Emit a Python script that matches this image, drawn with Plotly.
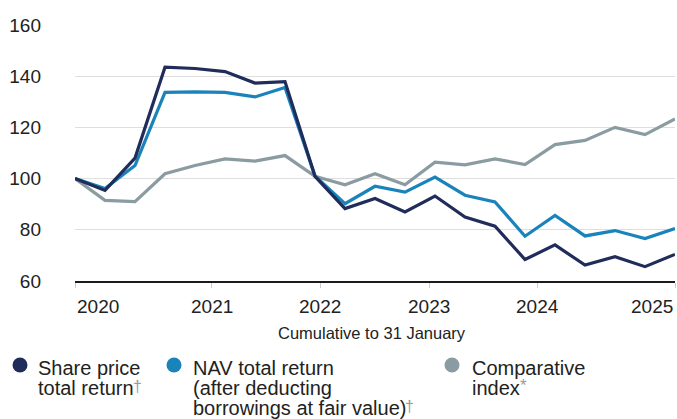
import plotly.graph_objects as go

# Quarterly points, cumulative to 31 January (rebased to 100)
periods = list(range(21))

share_price = [100, 95.4, 108, 143.5, 143.0, 141.8, 137.3, 137.9, 100.9, 88.3,
               92.2, 87.0, 93.2, 85.0, 81.4, 68.4, 74.1, 66.2, 69.5, 65.6, 70.4]
nav_return = [100, 96.1, 105.1, 133.7, 133.9, 133.7, 131.9, 135.6, 101.0, 90.2,
              97.0, 94.7, 100.6, 93.5, 90.9, 77.5, 85.6, 77.6, 79.7, 76.6, 80.5]
comparative = [100, 91.5, 91.0, 101.9, 105.1, 107.7, 106.8, 109.0, 100.9, 97.6,
               101.9, 97.6, 106.4, 105.4, 107.7, 105.5, 113.3, 114.9, 120.0, 117.2, 123.3]

year_labels = ["2020", "2021", "2022", "2023", "2024", "2025"]
year_positions = [0, 4.56, 8.17, 11.8, 15.4, 20]
y_ticks = [60, 80, 100, 120, 140, 160]

NAVY = "#202c5a"
BLUE = "#1a83ba"
GREY = "#8b9ba2"
TEXT = "#222222"
MARK = "#9a9a9a"
FONT = "Liberation Sans, Arial, sans-serif"

W, H = 677, 419
ML, MR, MT, MB = 75, 2, 25, 138
PW, PH = W - ML - MR, H - MT - MB


def px_x(px):
    return (px - ML) / PW


def px_y(py):
    return (H - MB - py) / PH


fig = go.Figure()
series = [
    ("Share price total return", share_price, NAVY),
    ("NAV total return", nav_return, BLUE),
    ("Comparative index", comparative, GREY),
]
# grey drawn first so the darker lines sit on top
for name, vals, col in reversed(series):
    fig.add_trace(go.Scatter(
        x=periods, y=vals, name=name, mode="lines",
        line=dict(color=col, width=3.2), cliponaxis=False,
        showlegend=False,
    ))

annotations = []
# x-axis year labels (first and last kept inside the plot edge)
for i, (lab, pos) in enumerate(zip(year_labels, year_positions)):
    anchor = "left" if i == 0 else ("right" if i == len(year_labels) - 1 else "center")
    annotations.append(dict(
        x=pos, xref="x", y=0, yref="paper", text=lab, showarrow=False,
        xanchor=anchor, yanchor="middle", yshift=-25,
        font=dict(family=FONT, size=19, color=TEXT),
    ))

annotations.append(dict(
    x=px_x(372), xref="paper", y=px_y(333), yref="paper",
    text="Cumulative to 31 January", showarrow=False,
    xanchor="center", yanchor="middle",
    font=dict(family=FONT, size=16.5, color=TEXT),
))

legend_items = [
    (NAVY, 20, 36, ["Share price", "total return"]),
    (BLUE, 174, 191, ["NAV total return", "(after deducting",
                      "borrowings at fair value)"]),
    (GREY, 452, 470, ["Comparative", "index"]),
]
# footnote marks placed after the last legend line: (symbol, x px, y px, size)
footnote_marks = [("†", 137, 386, 16), ("†", 409, 406, 16), ("*", 523, 385, 17)]

shapes = []
for col, dot_x, text_x, lines in legend_items:
    shapes.append(dict(
        type="circle", xref="paper", yref="paper",
        xsizemode="pixel", ysizemode="pixel",
        xanchor=px_x(dot_x), yanchor=px_y(365),
        x0=-7.5, x1=7.5, y0=-7.5, y1=7.5,
        fillcolor=col, line=dict(width=0),
    ))
    for k, line in enumerate(lines):
        annotations.append(dict(
            x=px_x(text_x), xref="paper", y=px_y(368 + 20 * k), yref="paper",
            text=line, showarrow=False, xanchor="left", yanchor="middle",
            font=dict(family=FONT, size=20, color=TEXT),
        ))

for sym, mx, my, sz in footnote_marks:
    annotations.append(dict(
        x=px_x(mx), xref="paper", y=px_y(my), yref="paper",
        text=sym, showarrow=False, xanchor="center", yanchor="middle",
        font=dict(family=FONT, size=sz, color=MARK),
    ))

fig.update_layout(
    width=W, height=H,
    margin=dict(l=ML, r=MR, t=MT, b=MB),
    paper_bgcolor="white", plot_bgcolor="white",
    font=dict(family=FONT, size=19, color=TEXT),
    xaxis=dict(
        range=[0, 20], tickvals=year_positions, showticklabels=False,
        ticks="outside", ticklen=5, tickcolor="#cccccc", tickwidth=1,
        showgrid=False, zeroline=False,
        showline=True, linecolor="#1a1a1a", linewidth=2,
    ),
    yaxis=dict(
        range=[60, 160], tickvals=y_ticks,
        showgrid=True, gridcolor="#dedede", gridwidth=1.2,
        zeroline=False, showline=False, ticks="",
        ticklabelstandoff=33,
        tickfont=dict(family=FONT, size=19, color=TEXT),
    ),
    shapes=shapes,
    annotations=annotations,
    hovermode=False,
)

fig.write_html("out.html")
